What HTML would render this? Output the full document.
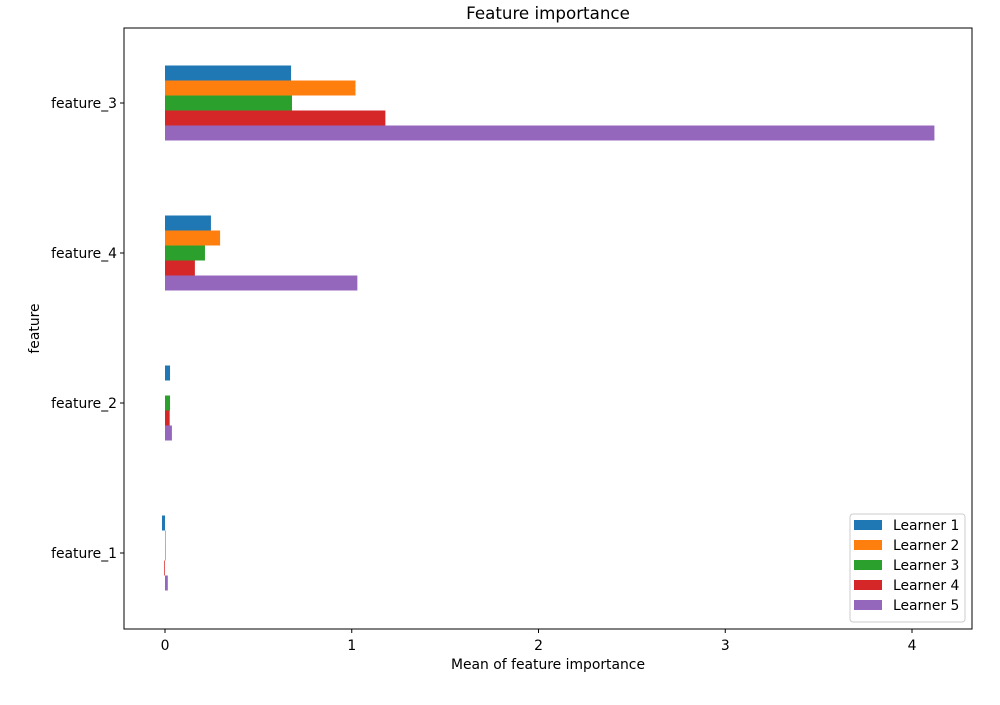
<!DOCTYPE html>
<html><head><meta charset="utf-8"><style>
body{margin:0;background:#fff;font-family:"Liberation Sans","DejaVu Sans",sans-serif;}
</style></head><body>
<svg id="chart" width="1000" height="700" xmlns="http://www.w3.org/2000/svg" font-family="DejaVu Sans, Liberation Sans, sans-serif">
<rect width="1000" height="700" fill="#fff"/>
</svg>
<script>
const categories = ["feature_1","feature_2","feature_4","feature_3"];
const learner1 = [-0.016, 0.027, 0.246, 0.675];
const learner2 = [0.004, 0.0, 0.295, 1.02];
const learner3 = [0.003, 0.027, 0.214, 0.68];
const learner4 = [-0.004, 0.025, 0.16, 1.18];
const learner5 = [0.015, 0.037, 1.03, 4.12];
const seriesNames = ["Learner 1","Learner 2","Learner 3","Learner 4","Learner 5"];
const xTicks = [0,1,2,3,4];

const svg = document.getElementById('chart');
const NS = 'http://www.w3.org/2000/svg';
const L=124,R=972,T=28,B=629;
const colors=["#1f77b4","#ff7f0e","#2ca02c","#d62728","#9467bd"];
const series=[learner1,learner2,learner3,learner4,learner5];
const x = v => 165 + v*186.75;
const yc = i => 553 - i*150;
function mk(tag, attrs, text){const e=document.createElementNS(NS,tag);for(const k in attrs)e.setAttribute(k,attrs[k]);if(text!==undefined)e.textContent=text;svg.appendChild(e);return e;}

const bh=15;
series.forEach((s,si)=>{
  s.forEach((v,ci)=>{
    const y0 = yc(ci) - 2.5*bh + si*bh;
    const r = mk('rect',{x:Math.min(x(0),x(v)),y:y0,width:Math.abs(x(v)-x(0)),height:bh,fill:colors[si]});
    
    
  });
});
const frame = mk('rect',{x:L,y:T,width:R-L,height:B-T,fill:'none',stroke:'#000','stroke-width':1});


xTicks.forEach(t=>{
  const l=mk('line',{x1:x(t),x2:x(t),y1:B,y2:B+4,stroke:'#000'});
  
  
  const tx=mk('text',{x:x(t),y:B+21,'font-size':13.9,'text-anchor':'middle'},String(t));
  
  
});
categories.forEach((c,i)=>{
  const l=mk('line',{x1:L-4,x2:L,y1:yc(i),y2:yc(i),stroke:'#000'});
  
  
  const tx=mk('text',{x:L-7,y:yc(i)+5,'font-size':13.9,'text-anchor':'end'},c);
  
  
});
const title=mk('text',{x:(L+R)/2,y:19,'font-size':16.7,'text-anchor':'middle'},'Feature importance');


const xt=mk('text',{x:(L+R)/2,y:669,'font-size':13.9,'text-anchor':'middle'},'Mean of feature importance');


const yt=mk('text',{x:39,y:(T+B)/2,'font-size':13.9,'text-anchor':'middle',transform:'rotate(-90 39 '+((T+B)/2)+')'},'feature');


const lg=mk('rect',{x:850,y:514,width:115,height:108,fill:'#fff',stroke:'#ccc',rx:3});


seriesNames.forEach((n,i)=>{
  const sw=mk('rect',{x:854,y:520+i*20,width:28,height:10,fill:colors[i]});
  
  
  const t=mk('text',{x:893,y:530+i*20,'font-size':13.9},n);
  
  
});
</script>
</body></html>
